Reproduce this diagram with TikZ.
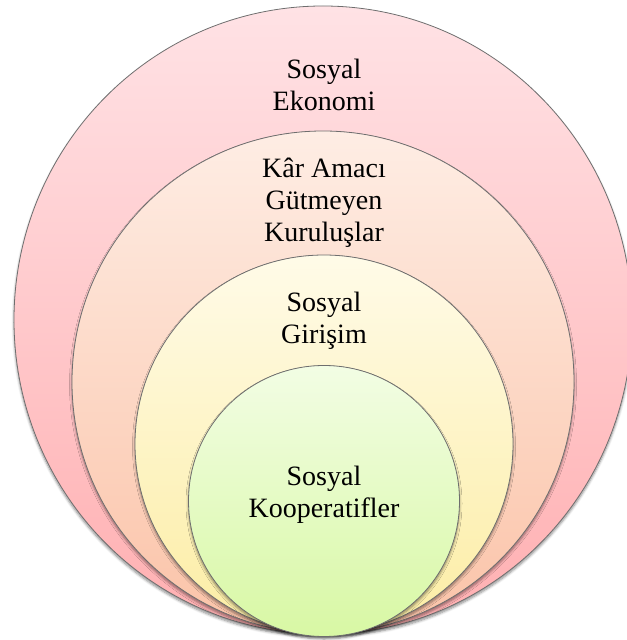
\documentclass[tikz,border=0pt]{standalone}
\usepackage{fontspec}
\setmainfont{Liberation Serif}
\usetikzlibrary{shapes.geometric,shadows.blur}
\definecolor{aTop}{HTML}{FFE2E5}
\definecolor{aBot}{HTML}{FFAFB1}
\definecolor{bTop}{HTML}{FEEDE4}
\definecolor{bBot}{HTML}{FBC3A8}
\definecolor{cTop}{HTML}{FFFBE8}
\definecolor{cBot}{HTML}{FCEDA4}
\definecolor{dTop}{HTML}{F2FDE4}
\definecolor{dBot}{HTML}{D8F8A4}
\definecolor{rim}{HTML}{6E6E6E}
\tikzset{
  ring/.style={draw=rim, line width=0.8bp, shading=axis, inner sep=0pt,
    blur shadow={shadow xshift=0bp, shadow yshift=-2.5bp, shadow blur steps=6, shadow opacity=45, shadow blur radius=2.5bp}},
  lbl/.style={align=center, font=\fontsize{28bp}{32bp}\selectfont, inner sep=0pt}
}
\begin{document}
\begin{tikzpicture}[x=1bp,y=-1bp]
\useasboundingbox (0,0) rectangle (627,640);
\node[ring, ellipse, minimum width=618bp, minimum height=628bp, top color=aTop, bottom color=aBot] (c1) at (323,320) {};
\node[ring, circle, minimum size=502bp, top color=bTop, bottom color=bBot] (c2) at (323,382) {};
\node[ring, circle, minimum size=378bp, top color=cTop, bottom color=cBot] (c3) at (324,444) {};
\node[ring, circle, minimum size=271bp, top color=dTop, bottom color=dBot] (c4) at (324,501) {};
\node[lbl] (t1) at (324,85) {Sosyal\\Ekonomi};
\node[lbl] (t2) at (324,203) {Kâr Amacı\\Gütmeyen\\Kuruluşlar};
\node[lbl] (t3) at (324,321) {Sosyal\\Girişim};
\node[lbl] (t4) at (324,495) {Sosyal\\Kooperatifler};
\end{tikzpicture}
\end{document}
